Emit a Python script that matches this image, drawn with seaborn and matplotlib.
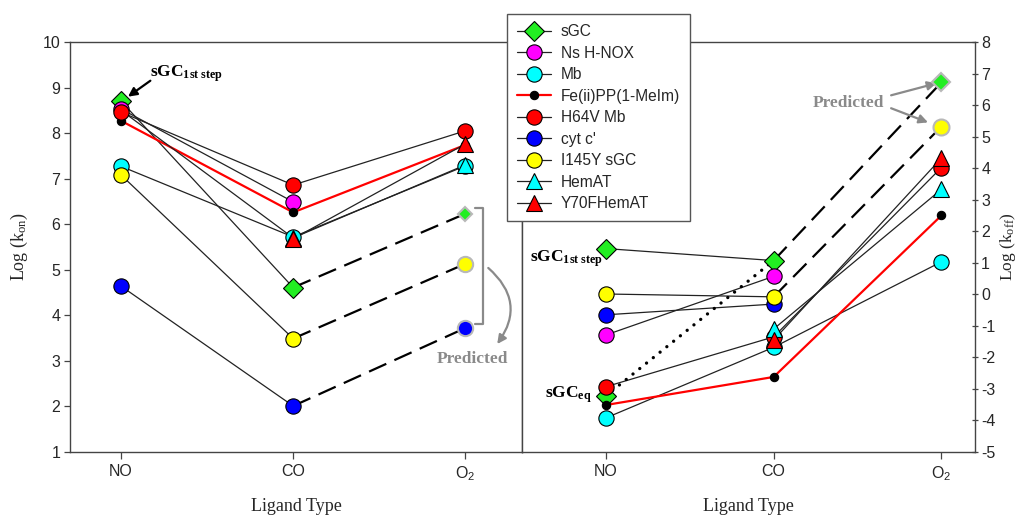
import numpy as np
import pandas as pd
import matplotlib
matplotlib.use("Agg")
import matplotlib.pyplot as plt
import seaborn as sns
from matplotlib.lines import Line2D

sns.set_theme(style="white")
plt.rcParams['font.family'] = ['Liberation Sans', 'DejaVu Sans']
plt.rcParams['mathtext.fontset'] = 'custom'
plt.rcParams['mathtext.rm'] = 'Liberation Serif'
plt.rcParams['mathtext.it'] = 'Liberation Serif:italic'
plt.rcParams['mathtext.bf'] = 'Liberation Serif:bold'
plt.rcParams['mathtext.sf'] = 'Liberation Sans'
plt.rcParams['axes.unicode_minus'] = False

# ---------------- data ----------------
ligands = ["NO", "CO", "O2"]
tick_labels = ["NO", "CO", r"$\mathsf{O_2}$"]
series = ["sGC", "Ns H-NOX", "Mb", "Fe(ii)PP(1-MeIm)", "H64V Mb",
          "cyt c'", "I145Y sGC", "HemAT", "Y70FHemAT"]

# Log(k_on), order NO, CO, O2
kon_sgc = [8.70, 4.61, np.nan]
kon_nshnox = [8.53, 6.49, np.nan]
kon_mb = [7.27, 5.72, 7.28]
kon_fepp = [8.27, 6.26, 7.74]
kon_h64v = [8.46, 6.86, 8.05]
kon_cytc = [4.64, 2.01, np.nan]
kon_i145y = [7.08, 3.49, np.nan]
kon_hemat = [8.50, 5.70, 7.30]
kon_y70f = [np.nan, 5.68, 7.76]
kon_pred_series = ["sGC", "I145Y sGC", "cyt c'"]
kon_pred_o2 = [6.23, 5.13, 3.72]

# Log(k_off), order NO, CO, O2
koff_sgc = [1.45, 1.07, np.nan]
koff_sgc_eq_no = -3.22
koff_nshnox = [-1.29, 0.57, np.nan]
koff_mb = [-3.92, -1.68, 1.03]
koff_fepp = [-3.51, -2.62, 2.50]
koff_h64v = [-2.93, -1.35, 4.02]
koff_cytc = [-0.65, -0.31, np.nan]
koff_i145y = [0.01, -0.08, np.nan]
koff_hemat = [np.nan, -1.10, 3.33]
koff_y70f = [np.nan, -1.45, 4.32]
koff_pred_series = ["sGC", "I145Y sGC"]
koff_pred_o2 = [6.72, 5.32]

kon = dict(zip(series, [kon_sgc, kon_nshnox, kon_mb, kon_fepp, kon_h64v,
                        kon_cytc, kon_i145y, kon_hemat, kon_y70f]))
koff = dict(zip(series, [koff_sgc, koff_nshnox, koff_mb, koff_fepp, koff_h64v,
                         koff_cytc, koff_i145y, koff_hemat, koff_y70f]))

# ---------------- styles ----------------
styles = {
    "sGC": dict(m="D", fc="#22ee22", ms=10.5, lc="#222222", lw=0.9),
    "Ns H-NOX": dict(m="o", fc="#ff00ff", ms=11, lc="#222222", lw=0.9),
    "Mb": dict(m="o", fc="#00ffff", ms=11, lc="#222222", lw=0.9),
    "Fe(ii)PP(1-MeIm)": dict(m="o", fc="#000000", ms=6, lc="#ff0000", lw=1.6),
    "H64V Mb": dict(m="o", fc="#ff0000", ms=11, lc="#222222", lw=0.9),
    "cyt c'": dict(m="o", fc="#0000ff", ms=11, lc="#222222", lw=0.9),
    "I145Y sGC": dict(m="o", fc="#ffff00", ms=11, lc="#222222", lw=0.9),
    "HemAT": dict(m="^", fc="#00ffff", ms=11, lc="#222222", lw=0.9),
    "Y70FHemAT": dict(m="^", fc="#ff0000", ms=11, lc="#222222", lw=0.9),
}
hidden_markers = {("left", "HemAT"): [0]}
pred_ms = {"left": {"sGC": 7, "I145Y sGC": 11, "cyt c'": 11},
           "right": {"sGC": 9, "I145Y sGC": 11.5}}

W, H = 1025, 516
fig = plt.figure(figsize=(W / 100, H / 100), dpi=100)
fig.patch.set_facecolor("white")
top, bot = 42, 452
ax1 = fig.add_axes([70 / W, (H - bot) / H, (522 - 70) / W, (bot - top) / H])
ax2 = fig.add_axes([522 / W, (H - bot) / H, (975 - 522) / W, (bot - top) / H])

xpos = [0, 1, 2]


def draw_series(ax, side, name, vals, z):
    st = styles[name]
    df = pd.DataFrame({"x": xpos, "y": vals}).dropna()
    sns.lineplot(data=df, x="x", y="y", ax=ax, color=st["lc"], linewidth=st["lw"],
                 estimator=None, sort=False, legend=False, zorder=2)
    hide = hidden_markers.get((side, name), [])
    mdf = df[~df["x"].isin(hide)]
    sns.lineplot(data=mdf, x="x", y="y", ax=ax, linestyle="none", marker=st["m"],
                 markersize=st["ms"], markerfacecolor=st["fc"], markeredgecolor="black",
                 markeredgewidth=0.8, color=st["fc"], estimator=None, sort=False,
                 legend=False, zorder=z)


def draw_pred(ax, side, names, preds, base):
    for name, p in zip(names, preds):
        co = base[name][1]
        df = pd.DataFrame({"x": [1, 2], "y": [co, p]})
        sns.lineplot(data=df, x="x", y="y", ax=ax, color="black", linewidth=1.6,
                     dashes=False, linestyle=(0, (8.5, 4)), estimator=None, sort=False,
                     legend=False, zorder=2)
        st = styles[name]
        pdf = pd.DataFrame({"x": [2], "y": [p]})
        sns.lineplot(data=pdf, x="x", y="y", ax=ax, linestyle="none", marker=st["m"],
                     markersize=pred_ms[side][name], markerfacecolor=st["fc"],
                     markeredgecolor="#b8b8b8", markeredgewidth=1.5, color=st["fc"],
                     estimator=None, legend=False, zorder=4)


for i, name in enumerate(series):
    draw_series(ax1, "left", name, kon[name], 3 + i * 0.1)
    draw_series(ax2, "right", name, koff[name], 3 + i * 0.1)

draw_pred(ax1, "left", kon_pred_series, kon_pred_o2, kon)
draw_pred(ax2, "right", koff_pred_series, koff_pred_o2, koff)

# sGC equilibrium point (right), dotted to CO
eq_df = pd.DataFrame({"x": [0, 1], "y": [koff_sgc_eq_no, koff_sgc[1]]})
sns.lineplot(data=eq_df, x="x", y="y", ax=ax2, color="black", linewidth=2.4,
             linestyle=(0, (0.01, 2.6)), dash_capstyle="round", estimator=None,
             sort=False, legend=False, zorder=2)
eqm = pd.DataFrame({"x": [0], "y": [koff_sgc_eq_no]})
sns.lineplot(data=eqm, x="x", y="y", ax=ax2, linestyle="none", marker="D",
             markersize=10, markerfacecolor="#22ee22", markeredgecolor="black",
             markeredgewidth=0.8, estimator=None, legend=False, zorder=2.95)

# ---------------- axes styling ----------------
spine_c = "#444444"
for ax in (ax1, ax2):
    ax.set_facecolor("white")
    ax.grid(False)
    for s in ax.spines.values():
        s.set_color(spine_c)
        s.set_linewidth(1.0)
    ax.set_xticks(xpos)
    ax.set_xticklabels(tick_labels)
    ax.tick_params(axis="x", direction="out", length=5, width=0.9, color=spine_c,
                   labelsize=11.5, pad=3.5, bottom=True)
    ax.set_xlabel("Ligand Type", family="Liberation Serif", fontsize=13, labelpad=11)

ax1.set_xlim(-0.297, 2.33)
ax1.set_ylim(1, 10)
ax1.set_yticks(range(1, 11))
ax1.tick_params(axis="y", direction="out", length=4, width=0.9, color=spine_c,
                labelsize=11.5, pad=3, left=True, right=False)
ax1.set_ylabel(r"Log (k$_{\mathrm{on}}$)", family="Liberation Serif", fontsize=13,
               labelpad=9)

ax2.set_xlim(-0.50, 2.20)
ax2.set_ylim(-5, 8)
ax2.set_yticks(range(-5, 9))
ax2.yaxis.tick_right()
ax2.yaxis.set_label_position("right")
ax2.tick_params(axis="y", direction="inout", length=5, width=0.9, color=spine_c,
                labelsize=11.5, pad=2, left=False, right=True)
ax2.set_ylabel(r"Log (k$_{\mathrm{off}}$)", family="Liberation Serif", fontsize=12.5,
               labelpad=2)

# ---------------- annotations ----------------
ann_font = dict(family="Liberation Serif", fontweight="bold", fontsize=12.5)
gray = "#8a8a8a"
ax1.text(0.169, 9.24, r"sGC$_{\mathbf{1st\ step}}$", ha="left", va="baseline",
         color="black", **ann_font)
ax1.annotate("", xy=(0.04, 8.80), xytext=(0.17, 9.15),
             arrowprops=dict(arrowstyle="-|>", color="black", lw=1.6,
                             mutation_scale=13, shrinkA=0, shrinkB=0))

btop = max(kon_pred_o2) + 0.12
bbot = min(kon_pred_o2) + 0.08
ax1.plot([2.058, 2.105, 2.105, 2.058], [btop, btop, bbot, bbot], color=gray, lw=1.6,
         zorder=3, clip_on=False)
ax1.annotate("", xy=(2.186, 3.37), xytext=(2.134, 5.04),
             arrowprops=dict(arrowstyle="-|>", color=gray, lw=1.6, mutation_scale=13,
                             connectionstyle="arc3,rad=-0.45", shrinkA=0, shrinkB=0))
ax1.text(2.04, 3.04, "Predicted", ha="center", va="center", color=gray, **ann_font)

ax2.text(1.445, 6.08, "Predicted", ha="center", va="center", color=gray, **ann_font)
ax2.annotate("", xy=(1.97, 6.69), xytext=(1.70, 6.31),
             arrowprops=dict(arrowstyle="-|>", color=gray, lw=1.6, mutation_scale=13,
                             shrinkA=0, shrinkB=0))
ax2.annotate("", xy=(1.92, 5.45), xytext=(1.70, 5.90),
             arrowprops=dict(arrowstyle="-|>", color=gray, lw=1.6, mutation_scale=13,
                             shrinkA=0, shrinkB=0))
ax2.text(-0.018, 1.04, r"sGC$_{\mathbf{1st\ step}}$", ha="right", va="baseline",
         color="black", **ann_font)
ax2.text(-0.084, -3.28, r"sGC$_{\mathbf{eq}}$", ha="right", va="baseline",
         color="black", **ann_font)

# ---------------- legend ----------------
handles = []
for name in series:
    st = styles[name]
    handles.append(Line2D([0], [0], color=st["lc"], lw=st["lw"], marker=st["m"],
                          markersize=st["ms"], markerfacecolor=st["fc"],
                          markeredgecolor="black", markeredgewidth=0.8))
leg = fig.legend(handles, series, loc="upper left",
                 bbox_to_anchor=(507 / W, 1 - 14 / H), bbox_transform=fig.transFigure,
                 frameon=True, fancybox=False, edgecolor="#555555", framealpha=1,
                 fontsize=11.2, labelspacing=0.42, handlelength=2.2, handletextpad=0.6,
                 borderpad=0.65, borderaxespad=0)
leg.get_frame().set_linewidth(1.0)

fig.savefig("out.png", dpi=100, facecolor="white")
